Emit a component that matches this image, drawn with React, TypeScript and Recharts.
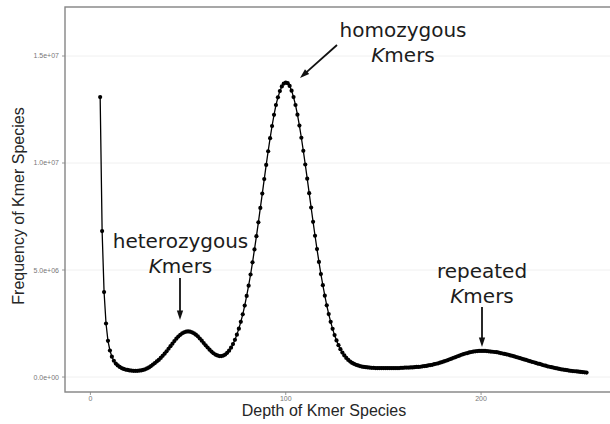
import { LineChart, Line, XAxis, YAxis, CartesianGrid } from 'recharts';

// k-mer frequency (millions of species) for each depth, starting at depth 5
const firstDepth = 5;
const freqMillions = [
  13.08, 6.82, 3.97, 2.5, 1.69,
  1.24, 0.95, 0.76, 0.63, 0.54, 0.47, 0.42, 0.38, 0.35, 0.33,
  0.31, 0.3, 0.29, 0.29, 0.29, 0.3, 0.31, 0.33, 0.36, 0.4,
  0.45, 0.51, 0.58, 0.65, 0.73, 0.8, 0.89, 0.99, 1.09, 1.2,
  1.32, 1.44, 1.56, 1.68, 1.79, 1.89, 1.97, 2.04, 2.09, 2.12,
  2.13, 2.12, 2.09, 2.04, 1.98, 1.9, 1.8, 1.7, 1.59, 1.48,
  1.38, 1.28, 1.19, 1.11, 1.05, 1.01, 0.98, 0.98, 1.0, 1.05,
  1.13, 1.23, 1.37, 1.54, 1.74, 1.98, 2.26, 2.58, 2.93, 3.34,
  3.79, 4.27, 4.79, 5.36, 5.96, 6.58, 7.23, 7.9, 8.57, 9.25,
  9.91, 10.55, 11.16, 11.73, 12.25, 12.71, 13.07, 13.36, 13.58, 13.71,
  13.76, 13.73, 13.6, 13.38, 13.08, 12.71, 12.26, 11.75, 11.18, 10.57,
  9.93, 9.27, 8.59, 7.92, 7.25, 6.6, 5.98, 5.38, 4.81, 4.29,
  3.8, 3.35, 2.94, 2.58, 2.25, 1.96, 1.71, 1.49, 1.3, 1.14,
  1.01, 0.89, 0.8, 0.72, 0.66, 0.61, 0.57, 0.54, 0.51, 0.49,
  0.47, 0.46, 0.45, 0.44, 0.43, 0.43, 0.42, 0.42, 0.42, 0.42,
  0.42, 0.42, 0.42, 0.42, 0.42, 0.42, 0.42, 0.42, 0.42, 0.43,
  0.43, 0.44, 0.44, 0.44, 0.45, 0.45, 0.46, 0.47, 0.47, 0.48,
  0.5, 0.51, 0.52, 0.54, 0.56, 0.57, 0.6, 0.62, 0.64, 0.67,
  0.7, 0.73, 0.76, 0.79, 0.83, 0.86, 0.9, 0.93, 0.97, 1.0,
  1.04, 1.07, 1.1, 1.12, 1.15, 1.17, 1.19, 1.2, 1.21, 1.22,
  1.22, 1.22, 1.22, 1.21, 1.2, 1.19, 1.18, 1.17, 1.16, 1.14,
  1.12, 1.1, 1.08, 1.06, 1.04, 1.01, 0.99, 0.96, 0.93, 0.91,
  0.88, 0.85, 0.82, 0.8, 0.77, 0.74, 0.71, 0.69, 0.66, 0.63,
  0.61, 0.58, 0.55, 0.53, 0.5, 0.48, 0.46, 0.44, 0.42, 0.4,
  0.38, 0.36, 0.35, 0.33, 0.32, 0.3, 0.29, 0.28, 0.27, 0.26,
  0.25, 0.24, 0.23, 0.22, 0.21,
];

const xTicks = [0, 100, 200];
const yTicks = [0, 5e6, 1e7, 1.5e7];

const data = freqMillions.map((f, i) => ({ depth: firstDepth + i, freq: f * 1e6 }));

const sci = (v: number) => {
  const [m, e] = v.toExponential(1).split('e');
  const sign = e.startsWith('-') ? '-' : '+';
  const digits = e.replace(/[+-]/, '').padStart(2, '0');
  return `${m}e${sign}${digits}`;
};

const sans = '"Liberation Sans", Arial, Helvetica, sans-serif';
const noteFont = '"DejaVu Sans", Verdana, sans-serif';

function Arrow({ x1, y1, x2, y2 }: { x1: number; y1: number; x2: number; y2: number }) {
  const a = Math.atan2(y2 - y1, x2 - x1);
  const len = 10;
  const spread = 0.32;
  const p1 = [x2 - len * Math.cos(a - spread), y2 - len * Math.sin(a - spread)];
  const p2 = [x2 - len * Math.cos(a + spread), y2 - len * Math.sin(a + spread)];
  const bx = x2 - len * 0.8 * Math.cos(a);
  const by = y2 - len * 0.8 * Math.sin(a);
  return (
    <g>
      <line x1={x1} y1={y1} x2={bx} y2={by} stroke="#111" strokeWidth={1.8} />
      <path d={`M${x2},${y2} L${p1[0]},${p1[1]} L${p2[0]},${p2[1]} Z`} fill="#111" />
    </g>
  );
}

function Note({ x, y, first }: { x: number; y: number; first: string }) {
  return (
    <text x={x} y={y} textAnchor="middle" fontFamily={noteFont} fontSize={20} fill="#1c1c1c">
      <tspan x={x} dy={0}>{first}</tspan>
      <tspan x={x} dy={25}>
        <tspan fontStyle="italic">K</tspan>mers
      </tspan>
    </text>
  );
}

export default function App() {
  return (
    <div style={{ position: 'relative', width: 610, height: 424, background: '#fff' }}>
      <style>{'body{margin:0}'}</style>
      <LineChart width={610} height={424} data={data} margin={{ top: 7, right: 0, bottom: 0, left: 0 }}>
        <CartesianGrid stroke="#ececec" strokeWidth={0.8} vertical={false} />
        <XAxis
          dataKey="depth"
          type="number"
          domain={[-13, 266]}
          ticks={xTicks}
          height={32}
          tickSize={3}
          tickMargin={1}
          axisLine={false}
          tickLine={{ stroke: '#999' }}
          tick={{ fontSize: 7, fill: '#777', fontFamily: sans }}
          allowDataOverflow
        />
        <YAxis
          type="number"
          domain={[-0.7e6, 17.29e6]}
          ticks={yTicks}
          width={65}
          tickSize={3}
          tickMargin={3}
          axisLine={false}
          tickLine={{ stroke: '#999' }}
          tick={{ fontSize: 7, fill: '#777', fontFamily: sans }}
          tickFormatter={sci}
          allowDataOverflow
        />
        <Line
          type="linear"
          dataKey="freq"
          stroke="#000"
          strokeWidth={1.3}
          dot={{ r: 2.1, fill: '#000', stroke: 'none' }}
          isAnimationActive={false}
        />
      </LineChart>
      <svg width={610} height={424} style={{ position: 'absolute', left: 0, top: 0, pointerEvents: 'none' }}>
        <rect x={65} y={7} width={547} height={385} fill="none" stroke="#858585" strokeWidth={1.4} />
        <text x={324} y={415.5} textAnchor="middle" fontFamily={sans} fontSize={16} fill="#262626">
          Depth of Kmer Species
        </text>
        <text
          transform="translate(24,206) rotate(-90)"
          textAnchor="middle"
          fontFamily={sans}
          fontSize={16}
          fill="#262626"
        >
          Frequency of Kmer Species
        </text>
        <Note x={403} y={37} first="homozygous" />
        <Arrow x1={337} y1={45} x2={300} y2={78} />
        <Note x={180.5} y={247.5} first="heterozygous" />
        <Arrow x1={180} y1={278} x2={180} y2={320} />
        <Note x={482} y={278} first="repeated" />
        <Arrow x1={482} y1={307} x2={482} y2={347} />
      </svg>
    </div>
  );
}
